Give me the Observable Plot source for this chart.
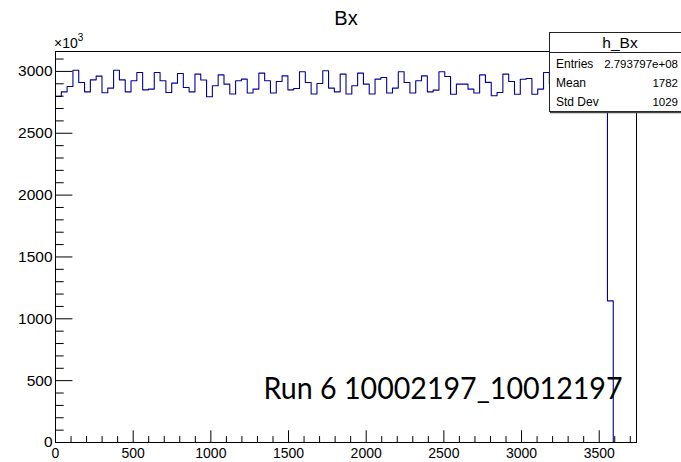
<!DOCTYPE html>
<html><head><meta charset="utf-8">
<script src="https://cdn.jsdelivr.net/npm/d3@7"></script>
<script src="https://cdn.jsdelivr.net/npm/@observablehq/plot@0.6"></script>
<style>html,body{margin:0;padding:0;background:#fff;overflow:hidden}</style>
</head><body><div id="chart"></div>
<script>
// ---- data (bin contents in units of 10^3) ----
const title = "Bx";
const histName = "h_Bx";
const xMin = 0, xMax = 3740, nBins = 100;
const yMax = 3161;
const binValues = [
  2797, 2835, 2878, 3010, 2910, 2835, 2932, 2962, 2827, 2865,
  3010, 2932, 2835, 2924, 2991, 2851, 2857, 2991, 2924, 2830,
  2905, 2983, 2870, 2835, 2978, 2930, 2795, 2884, 2972, 2897,
  2817, 2924, 2938, 2825, 2857, 2986, 2924, 2825, 2919, 2964,
  2851, 2862, 2997, 2910, 2817, 2902, 3005, 2865, 2835, 2978,
  2817, 2884, 2986, 2897, 2817, 2938, 2951, 2825, 2865, 2997,
  2910, 2825, 2924, 2964, 2835, 2849, 2997, 2959, 2816, 2897,
  2897, 2857, 2825, 2972, 2911, 2803, 2830, 2978, 2919, 2816,
  2937, 2943, 2816, 2857, 2991, 2900, 2830, 2870, 2985, 2915,
  2820, 2905, 2975, 2850, 2880, 1145, 0, 0, 0, 0
];
const xTickLabels = [0, 500, 1000, 1500, 2000, 2500, 3000, 3500];
const yTickLabels = [0, 500, 1000, 1500, 2000, 2500, 3000];
const statsLabels = ["Entries", "Mean", "Std Dev"];
const statsValues = ["2.793797e+08", "1782", "1029"];
const runLabel = "Run 6 10002197_10012197";

// ---- layout ----
const W = 681, H = 462;
const mL = 55, mR = 45, mT = 51, mB = 20;
const frameW = W - mL - mR, frameH = H - mT - mB;
const binW = (xMax - xMin) / nBins;
const steps = binValues.map((v, i) => ({x: xMin + i * binW, y: v}));
steps.push({x: xMax, y: 0});
const xMinor = d3.range(0, xMax, 100).filter(d => d % 500 !== 0);
const yMinor = d3.range(0, yMax, 100).filter(d => d % 500 !== 0);
const yMajorAll = d3.range(0, yMax, 500);

const font = "'Liberation Sans', Arial, Helvetica, sans-serif";
const fmt = d => String(d);
const chart = Plot.plot({
  width: W, height: H,
  marginLeft: mL, marginRight: mR, marginTop: mT, marginBottom: mB,
  style: {fontFamily: font, background: "white", color: "black", overflow: "visible"},
  x: {domain: [xMin, xMax]},
  y: {domain: [0, yMax]},
  marks: [
    Plot.line(steps, {x: "x", y: "y", curve: "step-after", stroke: "#000099", strokeWidth: 1.1}),
    Plot.frame({stroke: "black", strokeWidth: 1}),
    Plot.gridY(yMajorAll, {stroke: "black", strokeOpacity: 1, insetRight: frameW - 17.4}),
    Plot.gridY(yMinor, {stroke: "black", strokeOpacity: 1, insetRight: frameW - 8.7}),
    Plot.gridX(xTickLabels, {stroke: "black", strokeOpacity: 1, insetTop: frameH - 11.7}),
    Plot.gridX(xMinor, {stroke: "black", strokeOpacity: 1, insetTop: frameH - 5.9}),
    Plot.axisY(yTickLabels, {tickSize: 0, tickPadding: 3, fontSize: 15.5, tickFormat: fmt, label: null}),
    Plot.axisX(xTickLabels, {tickSize: 0, tickPadding: 6, fontSize: 14, tickFormat: fmt, label: null}),
    Plot.text([title], {frameAnchor: "top", dy: -32.5, fontSize: 20, lineAnchor: "middle", text: d => d}),
    Plot.text([runLabel], {frameAnchor: "bottom-right", textAnchor: "end", lineAnchor: "middle", dx: -14, dy: -53, fontSize: 31, fontFamily: "Lato, 'Open Sans', sans-serif", text: d => d})
  ]
});
document.getElementById("chart").appendChild(chart);

const svg = d3.select(chart);
// stretch the run label to its width in the reference
svg.selectAll("text").filter(function() { return this.textContent === runLabel; })
  .attr("textLength", 359).attr("lengthAdjust", "spacingAndGlyphs");

// x10^3 exponent label
const ex = svg.append("text").attr("x", 54).attr("y", 47.5).attr("text-anchor", "start")
  .attr("font-family", font).attr("font-size", 14).attr("fill", "black");
ex.append("tspan").text("×10");
ex.append("tspan").attr("dy", -7).attr("font-size", 10).text("3");

// stats box
const g = svg.append("g").attr("font-family", font).attr("fill", "black");
g.append("rect").attr("x", 549.5).attr("y", 32.5).attr("width", 160).attr("height", 79)
  .attr("fill", "white").attr("stroke", "#222").attr("stroke-width", 1);
g.append("line").attr("x1", 550).attr("x2", 700).attr("y1", 112.5).attr("y2", 112.5).attr("stroke", "#444").attr("stroke-width", 1.5);
g.append("line").attr("x1", 549.5).attr("x2", 700).attr("y1", 52.5).attr("y2", 52.5).attr("stroke", "#222");
g.append("text").attr("x", 620).attr("y", 48).attr("text-anchor", "middle").attr("font-size", 15.5).text(histName);
const rowY = [67.5, 87, 106];
statsLabels.forEach((s, i) => {
  g.append("text").attr("x", 556).attr("y", rowY[i]).attr("text-anchor", "start").attr("font-size", 12).text(s);
  g.append("text").attr("x", 678).attr("y", rowY[i]).attr("text-anchor", "end").attr("font-size", 11.5).text(statsValues[i]);
});
</script>
</body></html>
